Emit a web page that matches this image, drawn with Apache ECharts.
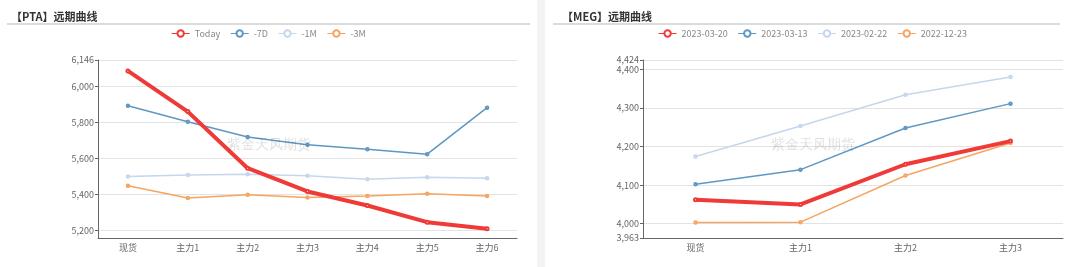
<!DOCTYPE html>
<html><head><meta charset="utf-8">
<script src="https://cdn.jsdelivr.net/npm/echarts@6/dist/echarts.min.js"></script>
<style>
html,body{margin:0;padding:0;background:#f3f3f3;width:1080px;height:267px;overflow:hidden;}
#c1{position:absolute;left:0;top:0;width:537px;height:267px;background:#fff;}
#c2{position:absolute;left:545px;top:0;width:535px;height:267px;background:#fff;}
</style></head>
<body>
<div id="c1"></div><div id="c2"></div>
<script>
const ptaCategories = ['现货','主力1','主力2','主力3','主力4','主力5','主力6'];
const ptaNames = ['Today','-7D','-1M','-3M'];
const ptaToday = [6085, 5859, 5544, 5415, 5337, 5244, 5208];
const pta7D   = [5892, 5803, 5718, 5674, 5650, 5622, 5881];
const pta1M   = [5498, 5507, 5511, 5502, 5483, 5494, 5489];
const pta3M   = [5446, 5378, 5396, 5381, 5390, 5402, 5390];

const megCategories = ['现货','主力1','主力2','主力3'];
const megNames = ['2023-03-20','2023-03-13','2023-02-22','2022-12-23'];
const meg0320 = [4062, 4050, 4154, 4214];
const meg0313 = [4102, 4140, 4248, 4311];
const meg0222 = [4174, 4253, 4334, 4380];
const meg1223 = [4003, 4004, 4125, 4209];

const colors = ['#ef3a37', '#5e97c2', '#c5d7ec', '#f5a560'];
const FONT = '"Noto Sans CJK SC", "Noto Sans", sans-serif';

function build(title, cats, names, datas, showMin) {
  const series = datas.map((d, i) => ({
    name: names[i], type: 'line', data: d,
    symbol: 'emptyCircle', symbolSize: i === 0 ? 3 : 2.5,
    lineStyle: { width: i === 0 ? 4 : 1.5, color: colors[i] },
    itemStyle: { color: colors[i] },
    z: i === 0 ? 5 : 2
  }));
  return {
    animation: false,
    color: colors,
    textStyle: { fontFamily: FONT },
    title: { text: title, left: 6, top: 6,
      textStyle: { fontSize: 11, fontWeight: 'bold', color: '#333', fontFamily: FONT } },
    legend: { top: 24, left: 'center', itemWidth: 18, itemHeight: 8, itemGap: 10,
      lineStyle: { width: 1 },
      itemStyle: { borderWidth: 1 },
      textStyle: { fontSize: 9, color: '#888', fontFamily: FONT } },
    grid: { left: 98, right: 20, top: 60, bottom: 29, containLabel: false },
    xAxis: { type: 'category', data: cats, boundaryGap: true,
      axisLine: { lineStyle: { color: '#666' } },
      axisTick: { alignWithLabel: true, length: 3, lineStyle: { color: '#666' } },
      axisLabel: { fontSize: 9, color: '#666', margin: 5 } },
    yAxis: { type: 'value',
      min: v => Math.round(v.min * 0.99),
      max: v => Math.round(v.max * 1.01),
      axisLine: { show: true, lineStyle: { color: '#666' } },
      axisTick: { show: true, length: 3, lineStyle: { color: '#666' } },
      axisLabel: { fontSize: 9, color: '#666', margin: 4, showMinLabel: showMin, showMaxLabel: true },
      splitLine: { lineStyle: { color: '#e3e3e3' } } },
    graphic: [
      { type: 'line', shape: { x1: 7, y1: 24, x2: 530, y2: 24 }, style: { stroke: '#cfcfcf', lineWidth: 1.5 } },
      { type: 'text', left: 'center', top: 138, z: 100,
        style: { text: '紫金天风期货', fontSize: 14, fill: 'rgba(0,0,0,0.13)', font: '14px ' + FONT } }
    ],
    series
  };
}

const o1 = build('【PTA】远期曲线', ptaCategories, ptaNames, [ptaToday, pta7D, pta1M, pta3M], false);
const o2 = build('【MEG】远期曲线', megCategories, megNames, [meg0320, meg0313, meg0222, meg1223], true);
o2.grid.right = 17;
o2.graphic[0].shape = { x1: 8, y1: 24, x2: 515, y2: 24 };
o2.title.left = 12;

echarts.init(document.getElementById('c1')).setOption(o1);
echarts.init(document.getElementById('c2')).setOption(o2);
</script>
</body></html>
